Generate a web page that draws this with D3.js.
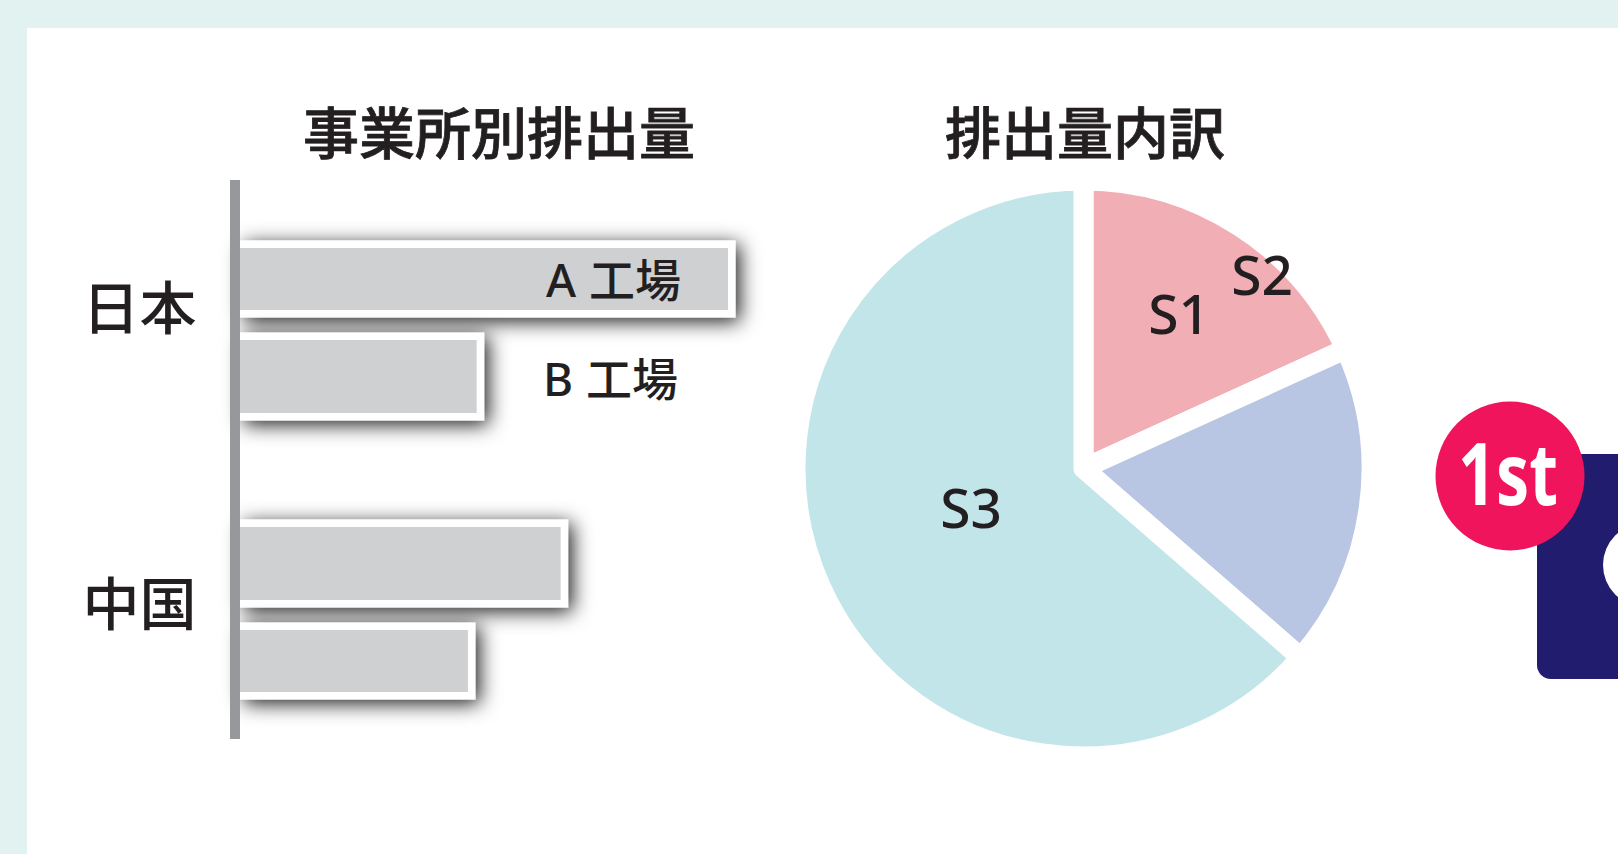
<!DOCTYPE html>
<html>
<head>
<meta charset="utf-8">
<script src="https://cdn.jsdelivr.net/npm/d3@7"></script>
<style>
html, body { margin: 0; padding: 0; background: #fff; overflow: hidden; }
text { font-family: "Noto Sans CJK JP", "Noto Sans", sans-serif; fill: #231f20; }
.latin { font-family: "Noto Sans", "Noto Sans CJK JP", sans-serif; }
.title { stroke: #231f20; stroke-width: 0.8px; }
</style>
</head>
<body>
<svg id="chart" width="1618" height="854"></svg>
<script>
// chart data
var regions = ['日本', '中国'];
var factories = ['A', 'B', 'C', 'D'];
var emissions = [100, 48.5, 65.7, 46.7];
var factoryLabels = ['A 工場', 'B 工場'];
var scopes = ['S1', 'S2', 'S3'];
var scopeShares = [18.2, 18.2, 63.6];
var scopeColors = ['#f1aeb5', '#b8c6e3', '#c2e5e9'];

var svg = d3.select('#chart');

var defs = svg.append('defs');
var shadow = defs.append('filter').attr('id', 'barShadow')
	.attr('x', '-20%').attr('y', '-60%').attr('width', '140%').attr('height', '220%');
shadow.append('feDropShadow')
	.attr('dx', 4).attr('dy', 4).attr('stdDeviation', 10)
	.attr('flood-color', '#000').attr('flood-opacity', 0.9);

// page frame
svg.append('rect').attr('width', 1618).attr('height', 854).attr('fill', '#e1f2f0');
svg.append('rect').attr('x', 27).attr('y', 28).attr('width', 1591).attr('height', 826).attr('fill', '#fff');

// titles
svg.append('text').attr('class', 'title').attr('x', 499).attr('y', 154).attr('text-anchor', 'middle')
	.attr('font-size', 56).attr('font-weight', 500).text('事業所別排出量');
svg.append('text').attr('class', 'title').attr('x', 1085).attr('y', 154).attr('text-anchor', 'middle')
	.attr('font-size', 56).attr('font-weight', 500).text('排出量内訳');

// bars
var x = d3.scaleLinear().domain([0, 100]).range([240, 728]);
var barTop = d3.scaleOrdinal(factories, [248, 340, 527, 630]);
var barHeight = d3.scaleOrdinal(factories, [62, 73, 73, 62]);
var border = 7.5;

svg.append('g').selectAll('rect').data(factories).enter().append('rect')
	.attr('x', x(0))
	.attr('y', function(d){ return barTop(d) - border })
	.attr('width', function(d, i){ return x(emissions[i]) - x(0) + border })
	.attr('height', function(d){ return barHeight(d) + 2 * border })
	.attr('fill', '#fff')
	.attr('filter', 'url(#barShadow)');

svg.append('g').selectAll('rect').data(factories).enter().append('rect')
	.attr('x', x(0))
	.attr('y', function(d){ return barTop(d) })
	.attr('width', function(d, i){ return x(emissions[i]) - x(0) })
	.attr('height', function(d){ return barHeight(d) })
	.attr('fill', '#cfd0d2');

// axis line on top of the shadows
svg.append('rect').attr('x', 230).attr('y', 180).attr('width', 10).attr('height', 559).attr('fill', '#97989c');

var regionY = d3.scaleOrdinal(regions, [329, 625]);
svg.append('g').selectAll('text').data(regions).enter().append('text')
	.attr('x', 139.5)
	.attr('y', function(d){ return regionY(d) })
	.attr('text-anchor', 'middle')
	.attr('font-size', 57)
	.attr('font-weight', 500)
	.text(function(d){ return d });

var labelX = d3.scaleOrdinal(factoryLabels, [546, 543]);
var labelY = d3.scaleOrdinal(factoryLabels, [297, 396]);
svg.append('g').selectAll('text').data(factoryLabels).enter().append('text')
	.attr('class', 'latin')
	.attr('x', function(d){ return labelX(d) })
	.attr('y', function(d){ return labelY(d) })
	.attr('font-size', 46)
	.attr('font-weight', 500)
	.style('word-spacing', '1px')
	.text(function(d){ return d });

// pie, white stroke makes the gaps between slices
var pie = d3.pie().sort(null);
var gap = 20;
var radius = 278;
var arc = d3.arc().innerRadius(0).outerRadius(radius + gap / 2);
var pieG = svg.append('g').attr('transform', 'translate(1083.5,468.5)');

pieG.selectAll('path').data(pie(scopeShares)).enter().append('path')
	.attr('d', arc)
	.attr('fill', function(d, i){ return scopeColors[i] })
	.attr('stroke', '#fff')
	.attr('stroke-width', gap)
	.attr('stroke-linejoin', 'round');

var scopeX = d3.scaleOrdinal(scopes, [1179, 1262, 971]);
var scopeY = d3.scaleOrdinal(scopes, [334, 295, 528]);
svg.append('g').selectAll('text').data(scopes).enter().append('text')
	.attr('class', 'latin')
	.attr('x', function(d){ return scopeX(d) })
	.attr('y', function(d){ return scopeY(d) })
	.attr('text-anchor', 'middle')
	.attr('font-size', 55)
	.attr('font-weight', 500)
	.text(function(d){ return d });

// cropped neighbour panel at the right edge
svg.append('rect').attr('x', 1537).attr('y', 454).attr('width', 110).attr('height', 225).attr('rx', 14).attr('fill', '#211c6e');
svg.append('circle').attr('cx', 1644.6).attr('cy', 565).attr('r', 41.6).attr('fill', '#fff');
svg.append('circle').attr('cx', 1510).attr('cy', 476).attr('r', 74.5).attr('fill', '#f0145c');
svg.append('text').attr('class', 'latin').attr('x', 1458).attr('y', 505)
	.attr('font-size', 86).attr('font-weight', 700)
	.attr('textLength', 100).attr('lengthAdjust', 'spacingAndGlyphs')
	.style('fill', '#fff').text('1st');
</script>
</body>
</html>
